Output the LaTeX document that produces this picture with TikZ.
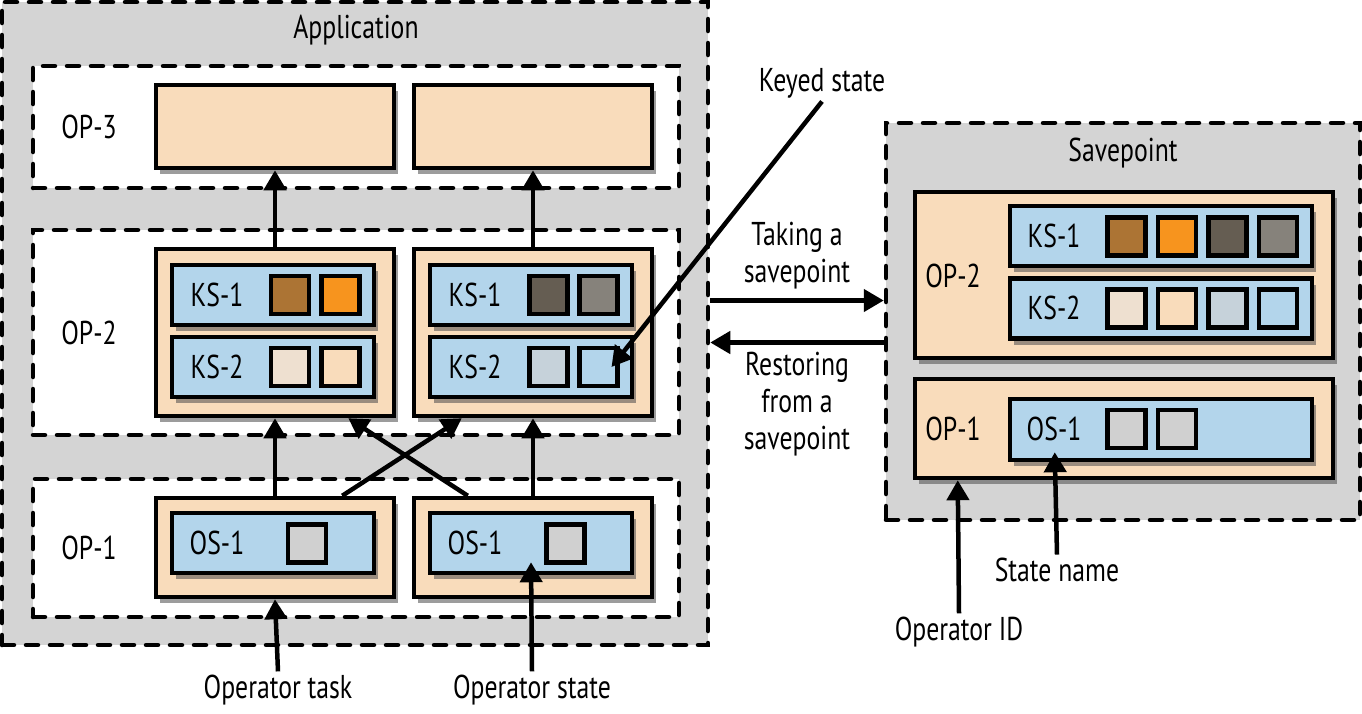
\documentclass[tikz,border=0pt]{standalone}
\usepackage{fontspec}
\setmainfont{PT Sans}[FakeStretch=0.78]
\usetikzlibrary{arrows.meta,shadows,calc}
\definecolor{bggray}{HTML}{D4D4D4}
\definecolor{tanc}{HTML}{F9DCBB}
\definecolor{tanlt}{HTML}{EEE0D0}
\definecolor{bluec}{HTML}{B3D5EB}
\definecolor{bluelt}{HTML}{C6D2DA}
\definecolor{org}{HTML}{F7941E}
\definecolor{orgdark}{HTML}{AC7434}
\definecolor{dark}{HTML}{655D52}
\definecolor{darklt}{HTML}{86827B}
\definecolor{graylt}{HTML}{D0D0D0}

\begin{document}
\begin{tikzpicture}[x=1pt, y=-1pt,
    font=\fontsize{33}{37}\selectfont,
    sz/.style 2 args={minimum width=#1pt, minimum height=#2pt},
    grp/.style={draw, dash pattern=on 12pt off 12pt, line cap=round, line width=4.5pt, inner sep=0pt},
    shadowed/.style={drop shadow={shadow xshift=4pt, shadow yshift=-6pt, fill=black!70, opacity=0.55}},
    task/.style={draw, line width=4.5pt, fill=tanc, inner sep=0pt, shadowed},
    st/.style={draw, line width=4.5pt, fill=bluec, inner sep=0pt, shadowed, sz={202}{60}},
    sq/.style={draw, line width=4.5pt, inner sep=0pt, minimum size=38pt},
    arr/.style={-{Triangle[length=20pt, width=22pt]}, line width=4.5pt}]
  \useasboundingbox (0,0) rectangle (1362,713);

  % application
  \node[grp, fill=bggray, sz={706}{643}] (app) at (355,323.5) {};
  \node (applbl) at (356,30) {Application};
  \node[grp, fill=white, sz={646}{122}] (op3) at (356,127) {};
  \node[grp, fill=white, sz={646}{205}] (op2) at (356,332.5) {};
  \node[grp, fill=white, sz={646}{138}] (op1) at (356,548) {};
  \node (op3lbl) at (89,127) {OP-3};
  \node (op2lbl) at (89,333) {OP-2};
  \node (op1lbl) at (89,548) {OP-1};

  \node[task, sz={238}{83}] (t3a) at (275,126.5) {};
  \node[task, sz={238}{83}] (t3b) at (533,126.5) {};
  \node[task, sz={238}{167}] (t2a) at (275,332.5) {};
  \node[task, sz={238}{167}] (t2b) at (533,332.5) {};
  \node[task, sz={238}{99}] (t1a) at (275,547.5) {};
  \node[task, sz={238}{99}] (t1b) at (533,547.5) {};

  \node[st] (ks1a) at (273,295) {};
  \node[st] (ks2a) at (273,367) {};
  \node[st] (ks1b) at (531,295) {};
  \node[st] (ks2b) at (531,367) {};
  \node[st] (os1a) at (273,543) {};
  \node[st] (os1b) at (531,543) {};
  \node (ks1albl) at (217,295) {KS-1};
  \node (ks2albl) at (217,367) {KS-2};
  \node (ks1blbl) at (475,295) {KS-1};
  \node (ks2blbl) at (475,367) {KS-2};
  \node (os1albl) at (217,543) {OS-1};
  \node (os1blbl) at (475,543) {OS-1};

  \node[sq, fill=orgdark] (ks1a1) at (290,295) {};
  \node[sq, fill=org] (ks1a2) at (340.5,295) {};
  \node[sq, fill=tanlt] (ks2a1) at (290,367) {};
  \node[sq, fill=tanc] (ks2a2) at (340.5,367) {};
  \node[sq, fill=dark] (ks1b1) at (548.5,295) {};
  \node[sq, fill=darklt] (ks1b2) at (598.5,295) {};
  \node[sq, fill=bluelt] (ks2b1) at (548.5,367) {};
  \node[sq, fill=bluec] (ks2b2) at (598.5,367) {};
  \node[sq, fill=graylt] (os1a1) at (307,543.5) {};
  \node[sq, fill=graylt] (os1b1) at (565.5,543.5) {};

  \draw[arr] (t2a.north) -- (t3a.south);
  \draw[arr] (t2b.north) -- (t3b.south);
  \draw[arr] (t1a.north) -- (t2a.south);
  \draw[arr] (t1b.north) -- (t2b.south);
  \draw[arr] ([xshift=-54pt]t1a.north east) -- ([xshift=50pt]t2b.south west);
  \draw[arr] ([xshift=56pt]t1b.north west) -- ([xshift=-48pt]t2a.south east);

  \node (optask) at (278,690) {Operator task};
  \node (opstate) at (532,690) {Operator state};
  \draw[arr] (optask.north) -- (t1a.south);
  \draw[arr] (opstate.north) -- ([yshift=13pt]os1b.south);

  % savepoint
  \node[grp, fill=bggray, sz={474}{397}] (sp) at (1123,321.5) {};
  \node (splbl) at (1123,153) {Savepoint};
  \node[task, sz={418}{166}] (spop2) at (1124,275) {};
  \node[task, sz={418}{99}] (spop1) at (1124,428.5) {};
  \node[st, sz={302}{60}] (spks1) at (1161,236) {};
  \node[st, sz={302}{60}] (spks2) at (1161,308.5) {};
  \node[st, sz={302}{61}] (spos1) at (1161,429.5) {};
  \node (spop2lbl) at (953,276) {OP-2};
  \node (spop1lbl) at (953,429) {OP-1};
  \node (spks1lbl) at (1054,236) {KS-1};
  \node (spks2lbl) at (1054,308) {KS-2};
  \node (spos1lbl) at (1054,429) {OS-1};
  \foreach \c [count=\i] in {orgdark,org,dark,darklt}
    \node[sq, fill=\c] (spk1\i) at (1076+50.5*\i,236.5) {};
  \foreach \c [count=\i] in {tanlt,tanc,bluelt,bluec}
    \node[sq, fill=\c] (spk2\i) at (1076+50.5*\i,308.5) {};
  \foreach \i in {1,2}
    \node[sq, fill=graylt] (spo\i) at (1076+50.5*\i,429) {};

  \node[align=center] (take) at (797,256) {Taking a\\savepoint};
  \node[align=center] (restore) at (797,404) {Restoring\\from a\\savepoint};
  \draw[arr] ($(sp.west -| app.east)+(0,-21)$) -- ($(sp.west)+(0,-21)$);
  \draw[arr] ($(sp.west)+(0,21)$) -- ($(sp.west -| app.east)+(0,21)$);

  \node (keyed) at (822,83) {Keyed state};
  \draw[arr] (keyed.south) -- ([xshift=13pt]ks2b2.center);

  \node (opid) at (959,632) {Operator ID};
  \node (stname) at (1057,570) {State name};
  \draw[arr] (opid.north) -- ([xshift=45pt]spop1.south west);
  \draw[arr] (stname.north) -- ([xshift=47pt,yshift=10pt]spos1.south west);
\end{tikzpicture}
\end{document}
